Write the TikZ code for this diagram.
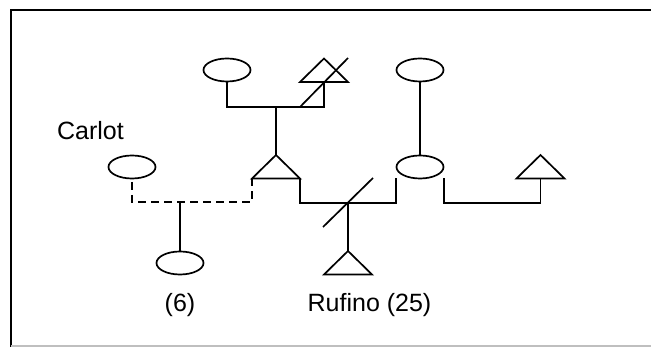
\documentclass[tikz,border=0pt]{standalone}
\usepackage{fontspec}
\setmainfont{Liberation Sans}
\usetikzlibrary{shapes.geometric,calc}
\begin{document}
\begin{tikzpicture}[x=1pt,y=-1pt,
  lw/.style={line width=1.7pt},
  fem/.style={draw,ellipse,lw,minimum width=47pt,minimum height=23pt,inner sep=0pt},
  tri/.style={lw,line join=miter},
  lbl/.style={anchor=base,inner sep=0pt,font=\fontsize{25}{29}\selectfont},
  dashline/.style={lw,dash pattern=on 8pt off 5pt}]
\useasboundingbox (0,0) rectangle (651,347);
% frame
\draw[line width=2pt] (11,347) -- (11,10) -- (651,10);
\draw[black!25,line width=1.5pt] (11,346) -- (651,346);
% females (ellipses)
\node[fem] (A) at (227,70) {};
\node[fem] (B) at (420,70) {};
\node[fem] (C) at (132,167) {};
\node[fem] (D) at (420,167) {};
\node[fem] (E) at (180,263) {};
% males (triangles): apex coordinates
\coordinate (T1) at (324,58.5);
\coordinate (T2) at (276,155);
\coordinate (T3) at (348,251);
\coordinate (T4) at (540.5,155);
\coordinate (T1b) at (324,82);
\coordinate (T4b) at (540.5,178.5);
\foreach \t in {T1,T2,T3,T4}{
  \draw[tri] (\t) -- ++(-24,23.5) -- ++(48,0) -- cycle;
}
% top marriage A -- T1
\draw[lw] (A.south) -- (227,107) -- (324,107) -- (T1b);
\draw[lw] (300,107) -- (348,58);
\draw[lw] (276,107) -- (T2);
% dashed union C -- T2
\draw[dashline] (132,182) -- (132,202) -- (252,202) -- (252,178.5);
\draw[lw] (180,202) -- (E.north);
% marriage T2 -- D
\draw[lw] (300,178.5) -- (300,203) -- (396,203) -- (396,178.5);
\draw[lw] (348,203) -- (T3);
\draw[lw] (323,227) -- (373,178);
% B -- D
\draw[lw] (B.south) -- (D.north);
% D -- T4
\draw[lw] (444,178.5) -- (444,203) -- (540.5,203) -- (T4b);
% labels
\node[lbl] (lc) at (90.5,140) {Carlot};
\node[lbl] (l6) at (180,312) {(6)};
\node[lbl] (lr) at (369.5,312) {Rufino (25)};
\end{tikzpicture}
\end{document}
